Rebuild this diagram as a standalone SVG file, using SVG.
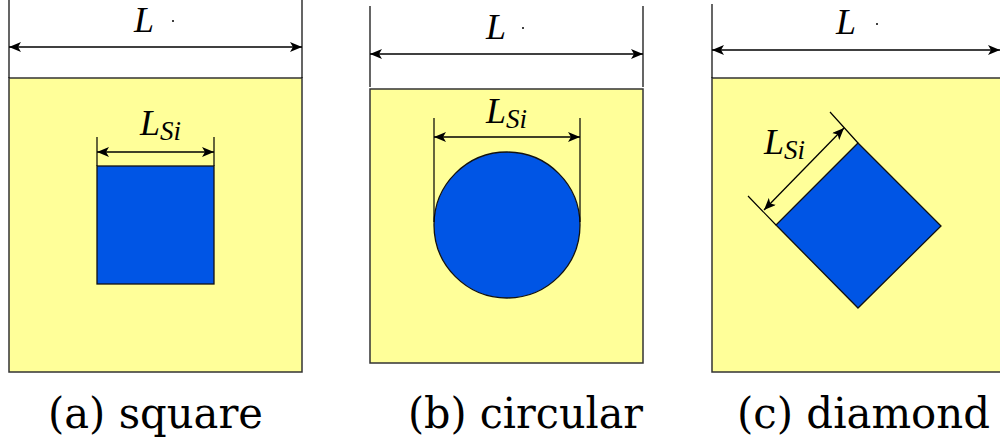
<svg xmlns="http://www.w3.org/2000/svg" width="1000" height="444" viewBox="0 0 1000 444">
<style>
.panel{fill:#FFFF99;stroke:#333;stroke-width:1.5}
.si{fill:#0055E5;stroke:#111;stroke-width:1.3}
.dim{fill:none;stroke:#000;stroke-width:1.3;marker-start:url(#arr);marker-end:url(#arr)}
.ext{fill:none;stroke:#000;stroke-width:1.2}
.m{font-family:"Liberation Serif",serif;font-style:italic;font-size:36px;fill:#000}
.sub{font-size:27px}
.cap{font-family:"DejaVu Serif",serif;font-size:42px;fill:#000}
</style>
<defs>
<marker id="arr" viewBox="0 0 12 10" refX="12" refY="5" markerWidth="12" markerHeight="10" markerUnits="userSpaceOnUse" orient="auto-start-reverse">
<path d="M0,0 L12,5 L0,10 L3,5 Z" fill="#000"/>
</marker>
</defs>
<g id="panel-a">
<rect class="panel" x="9" y="78" width="293" height="294"/>
<rect class="si" x="97" y="166" width="117" height="118"/>
<text class="m" x="134" y="32">L</text>
<circle cx="173" cy="21" r="1" fill="#000"/>
<text class="m" x="140" y="135">L<tspan class="sub" dy="5">Si</tspan></text>
<text class="cap" x="48" y="428" textLength="215" lengthAdjust="spacingAndGlyphs">(a) square</text>
</g>
<g id="panel-b">
<rect class="panel" x="370" y="89" width="273" height="274"/>
<circle class="si" cx="507" cy="225" r="73"/>
<text class="m" x="486" y="39">L</text>
<circle cx="523" cy="28" r="1" fill="#000"/>
<text class="m" x="486" y="123">L<tspan class="sub" dy="5">Si</tspan></text>
<text class="cap" x="408" y="428" textLength="235" lengthAdjust="spacingAndGlyphs">(b) circular</text>
</g>
<g id="panel-c">
<rect class="panel" x="712" y="78" width="294" height="294"/>
<polygon class="si" points="858,143 941,226 858,308 776,225"/>
<text class="m" x="836" y="34">L</text>
<circle cx="877" cy="24" r="1" fill="#000"/>
<text class="m" x="764" y="154">L<tspan class="sub" dy="5">Si</tspan></text>
<text class="cap" x="737" y="428" textLength="253" lengthAdjust="spacingAndGlyphs">(c) diamond</text>
</g>
<g id="connectors">
<path class="ext" d="M9,0 V78 M302,0 V78"/>
<path class="dim" d="M9,47 H302"/>
<path class="ext" d="M97,137 V166 M214,137 V166"/>
<path class="dim" d="M97,152 H214"/>
<path class="ext" d="M370,6 V87 M643,6 V87"/>
<path class="dim" d="M370,54 H643"/>
<path class="ext" d="M434,118 V222 M580,118 V222"/>
<path class="dim" d="M434,137 H580"/>
<path class="ext" d="M712,4 V78"/>
<path class="dim" d="M712,50 H1000"/>
<path class="ext" d="M748,196 L776,225 M830,112 L858,143"/>
<path class="dim" d="M764,210 L844,128"/>
</g>
</svg>
